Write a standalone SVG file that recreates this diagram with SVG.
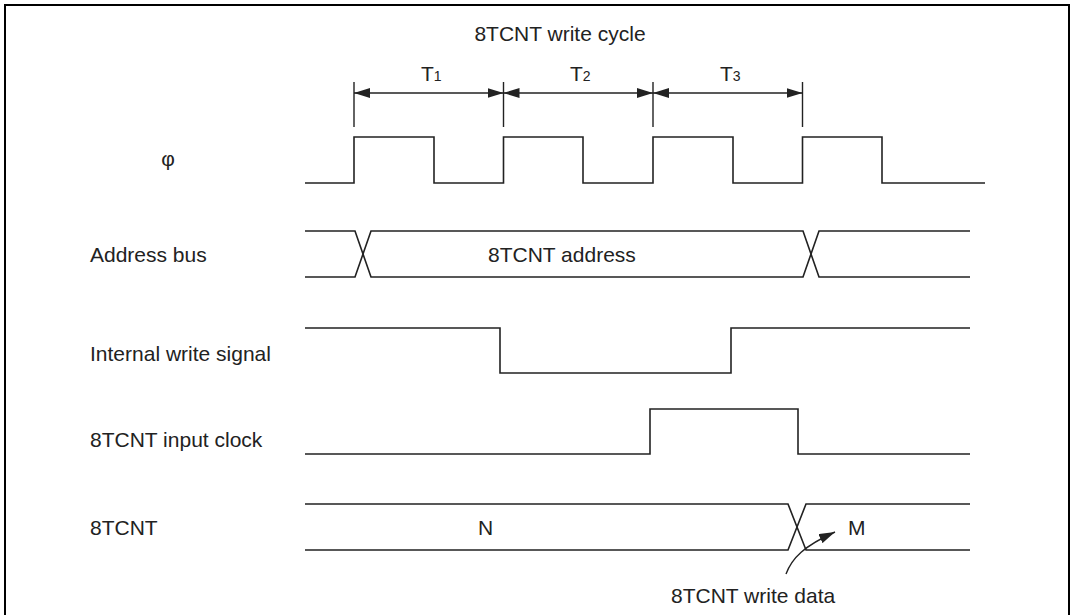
<svg xmlns="http://www.w3.org/2000/svg" width="1076" height="615" viewBox="0 0 1076 615">
<style>
.sig{fill:none;stroke:#222;stroke-width:1.6;stroke-linejoin:miter}
.dim{fill:none;stroke:#222;stroke-width:1.4}
.lbl{font-family:"Liberation Sans",Arial,sans-serif;font-size:21px;fill:#222}
.sub{font-size:14px}
</style>
<defs>
<marker id="ah" viewBox="0 0 16 10" refX="16" refY="5" markerWidth="16" markerHeight="10" markerUnits="userSpaceOnUse" orient="auto-start-reverse">
<path d="M0,0 L16,5 L0,10 Z" fill="#222"/>
</marker>
</defs>
<rect x="5" y="5" width="1064" height="625" fill="#fff" stroke="#000" stroke-width="2"/>
<g id="title">
<text class="lbl" x="560" y="41" text-anchor="middle">8TCNT write cycle</text>
</g>
<g id="cycles">
<line class="dim" x1="354" y1="82" x2="354" y2="127"/>
<line class="dim" x1="503.5" y1="82" x2="503.5" y2="127"/>
<line class="dim" x1="653" y1="82" x2="653" y2="127"/>
<line class="dim" x1="802.5" y1="82" x2="802.5" y2="127"/>
<line class="dim" x1="354" y1="93" x2="503.5" y2="93" stroke-width="1" marker-start="url(#ah)" marker-end="url(#ah)"/>
<line class="dim" x1="503.5" y1="93" x2="653" y2="93" marker-start="url(#ah)" marker-end="url(#ah)"/>
<line class="dim" x1="653" y1="93" x2="802.5" y2="93" marker-start="url(#ah)" marker-end="url(#ah)"/>
<text class="lbl" x="421" y="81">T<tspan class="sub">1</tspan></text>
<text class="lbl" x="570" y="81">T<tspan class="sub">2</tspan></text>
<text class="lbl" x="720" y="81">T<tspan class="sub">3</tspan></text>
</g>
<g id="phi">
<text class="lbl" x="168" y="166" text-anchor="middle" style="font-size:21px">φ</text>
<path class="sig" d="M305,183 H354 V137 H434 V183 H503.5 V137 H583 V183 H653 V137 H733 V183 H802.5 V137 H882 V183 H985"/>
</g>
<g id="address-bus">
<text class="lbl" x="90" y="262">Address bus</text>
<path class="sig" d="M305,231 H355 L371,277 H803 L819,231 H970"/>
<path class="sig" d="M305,277 H355 L371,231 H803 L819,277 H970"/>
<text class="lbl" x="488" y="262">8TCNT address</text>
</g>
<g id="internal-write">
<text class="lbl" x="90" y="361">Internal write signal</text>
<path class="sig" d="M305,328 H500 V373 H731 V328 H970"/>
</g>
<g id="input-clock">
<text class="lbl" x="90" y="447">8TCNT input clock</text>
<path class="sig" d="M305,454 H650 V409 H798 V454 H970"/>
</g>
<g id="tcnt">
<text class="lbl" x="90" y="535">8TCNT</text>
<path class="sig" d="M305,504 H788 L806,550 H970"/>
<path class="sig" d="M305,550 H788 L806,504 H970"/>
<text class="lbl" x="478" y="535">N</text>
<text class="lbl" x="848" y="535">M</text>
</g>
<g id="connectors">
<path class="dim" d="M786,574 C792,558 804,546 835,532" marker-end="url(#ah)"/>
</g>
<g id="write-data">
<text class="lbl" x="671" y="603">8TCNT write data</text>
</g>
</svg>
